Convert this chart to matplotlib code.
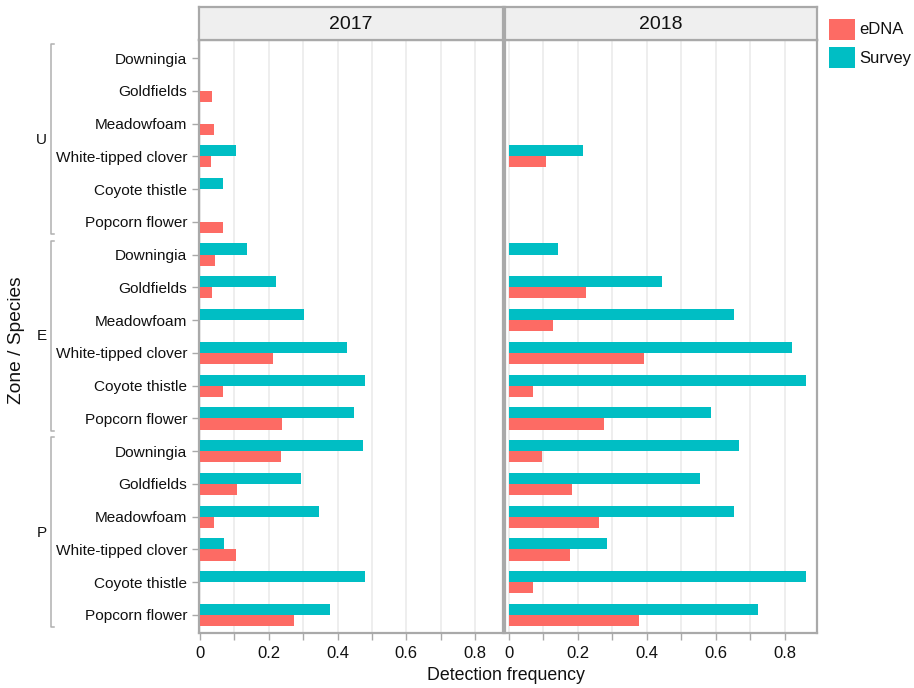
import matplotlib
matplotlib.use("Agg")
import matplotlib.pyplot as plt
from matplotlib.patches import Rectangle
from matplotlib.transforms import blended_transform_factory
import numpy as np

plt.rcParams['font.family'] = ['Liberation Sans', 'DejaVu Sans']

zones = ["U", "E", "P"]
species = ["Downingia", "Goldfields", "Meadowfoam", "White-tipped clover",
           "Coyote thistle", "Popcorn flower"]
years = ["2017", "2018"]

# detection frequencies, ordered zone U, E, P and species within each zone
edna_2017 = [0.000, 0.034, 0.041, 0.033, 0.000, 0.066,
             0.045, 0.034, 0.000, 0.211, 0.066, 0.239,
             0.235, 0.109, 0.041, 0.105, 0.000, 0.273]
survey_2017 = [0.000, 0.000, 0.000, 0.105, 0.066, 0.000,
               0.136, 0.220, 0.302, 0.426, 0.481, 0.447,
               0.475, 0.294, 0.346, 0.069, 0.481, 0.377]
edna_2018 = [0.000, 0.000, 0.000, 0.106, 0.000, 0.000,
             0.000, 0.222, 0.129, 0.392, 0.069, 0.275,
             0.095, 0.184, 0.260, 0.178, 0.069, 0.378]
survey_2018 = [0.000, 0.000, 0.000, 0.214, 0.000, 0.000,
               0.142, 0.443, 0.651, 0.820, 0.861, 0.586,
               0.666, 0.555, 0.651, 0.285, 0.861, 0.723]

edna = {"2017": edna_2017, "2018": edna_2018}
survey = {"2017": survey_2017, "2018": survey_2018}

C_EDNA = "#FD6B64"
C_SURVEY = "#00BEC4"
BORDER = "#A9A9A9"
GRID = "#EBEBEB"

W, H = 914, 688
fig = plt.figure(figsize=(W / 100, H / 100), dpi=100)


def fx(px):
    return px / W


def fy(py):
    return 1 - py / H


plot_top, plot_bot = 40, 633
strip_top = 7
panels = {"2017": (198.6, 503.0, (-0.004, 0.881)),
          "2018": (505.0, 817.0, (-0.0116, 0.893))}

n = len(zones) * len(species)
ypos = np.arange(n)
labels = species * len(zones)
bh = 0.34

axes = {}
for yr in years:
    x0, x1, xl = panels[yr]
    ax = fig.add_axes([fx(x0), fy(plot_bot), fx(x1 - x0), (plot_bot - plot_top) / H])
    axes[yr] = ax
    ax.barh(ypos - bh / 2, survey[yr], height=bh, color=C_SURVEY, zorder=3)
    ax.barh(ypos + bh / 2, edna[yr], height=bh, color=C_EDNA, zorder=3)
    ax.set_xlim(*xl)
    ax.set_ylim(n - 0.45, -0.55)
    ticks = np.arange(0, 0.81, 0.1)
    ax.set_xticks(ticks)
    ax.set_xticklabels(["0" if i == 0 else (f"{v:.1f}" if i % 2 == 0 else "")
                        for i, v in enumerate(ticks)])
    ax.xaxis.grid(True, color=GRID, linewidth=1.2, zorder=0)
    ax.set_axisbelow(True)
    ax.tick_params(axis='x', length=5, width=1, color=BORDER, labelsize=12,
                   pad=4, labelcolor="#111111")
    for s in ax.spines.values():
        s.set_color(BORDER)
        s.set_linewidth(1.6)
    if yr == "2017":
        ax.set_yticks(ypos)
        ax.set_yticklabels(labels)
        ax.tick_params(axis='y', length=5, width=1, color=BORDER, labelsize=11.1,
                       pad=3, labelcolor="#111111")
    else:
        ax.set_yticks([])

    # facet strip
    sax = fig.add_axes([fx(x0), fy(plot_top), fx(x1 - x0), (plot_top - strip_top) / H])
    sax.set_facecolor("#EFEFEF")
    sax.set_xticks([])
    sax.set_yticks([])
    for s in sax.spines.values():
        s.set_color(BORDER)
        s.set_linewidth(1.6)
    sax.text(0.5, 0.47, yr, ha="center", va="center", fontsize=14, color="#111111",
             transform=sax.transAxes)

# zone brackets on the left of the first panel
ax0 = axes["2017"]
tr = blended_transform_factory(fig.transFigure, ax0.transData)
bx = fx(50.7)
serif = fx(3)
for zi, z in enumerate(zones):
    top = zi * len(species) - 0.43
    bot = zi * len(species) + len(species) - 1 + 0.37
    ax0.plot([bx + serif, bx, bx, bx + serif], [top, top, bot, bot], color="#B0B0B0",
             linewidth=1.1, transform=tr, clip_on=False)
    ax0.text(fx(47), zi * len(species) + 2.5, z, ha="right", va="center",
             fontsize=11, color="#111111", transform=tr)

fig.text(fx(17), fy(340), "Zone / Species", rotation=90, ha="center", va="center",
         fontsize=13.8, color="#111111")
fig.text(fx(506), fy(675), "Detection frequency", ha="center", va="center",
         fontsize=12.8, color="#111111")

# legend
for name, col, top in [("eDNA", C_EDNA, 19), ("Survey", C_SURVEY, 47)]:
    fig.patches.append(Rectangle((fx(829), fy(top + 21)), fx(26), 21 / H,
                                 transform=fig.transFigure, facecolor=col,
                                 edgecolor="none"))
    fig.text(fx(859), fy(top + 11), name, ha="left", va="center", fontsize=12,
             color="#111111")

fig.savefig("out.png", dpi=100)
